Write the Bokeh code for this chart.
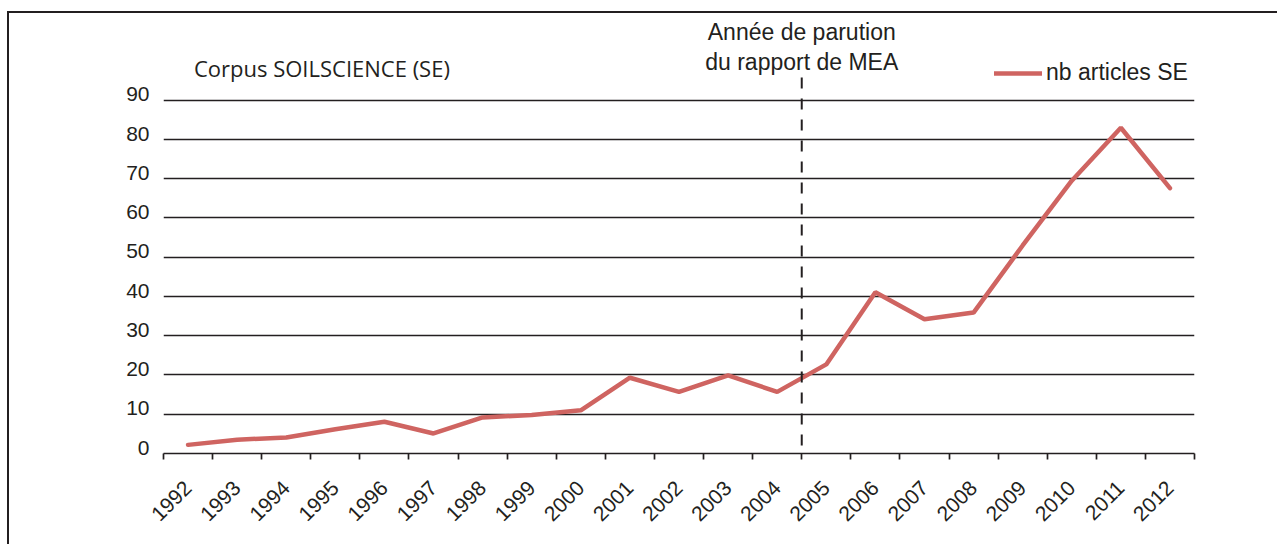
from math import pi

from bokeh.plotting import figure
from bokeh.models import Range1d, FixedTicker, Label, Legend, LegendItem, LinearAxis
from bokeh.embed import file_html
from bokeh.resources import INLINE

# ---------------- data ----------------
years = [1992, 1993, 1994, 1995, 1996, 1997, 1998, 1999, 2000, 2001, 2002,
         2003, 2004, 2005, 2006, 2007, 2008, 2009, 2010, 2011, 2012]
year_labels = ["1992", "1993", "1994", "1995", "1996", "1997", "1998", "1999",
               "2000", "2001", "2002", "2003", "2004", "2005", "2006", "2007",
               "2008", "2009", "2010", "2011", "2012"]
nb_articles_se = [2.2, 3.5, 4.1, 6.2, 8.1, 5.1, 9.2, 9.8, 11.0, 19.3, 15.7,
                  19.9, 15.7, 22.7, 41.1, 34.2, 35.9, 53.0, 69.5, 83.0, 67.6]
y_ticks = [0, 10, 20, 30, 40, 50, 60, 70, 80, 90]
series_label = "nb articles SE"
chart_title = "Corpus SOILSCIENCE (SE)"
annotation_lines = ["Année de parution", "du rapport de MEA"]
mea_boundary = 2004.5  # between 2004 and 2005

# ---------------- styles ----------------
INK = "#231f20"
LINE_COLOR = "#cf6461"
SANS = "Liberation Sans"
Y_MAX = 112.1
LABEL_LIFT = 1.5  # tick labels sit just above their grid lines

p = figure(width=1270, height=533,
           x_range=Range1d(1991.5, 2012.5), y_range=Range1d(0, Y_MAX),
           output_backend="svg", toolbar_location=None,
           min_border_left=154, min_border_right=85,
           min_border_top=0, min_border_bottom=93)
p.outline_line_color = None
p.background_fill_color = "white"
p.border_fill_color = "white"
p.styles = {"border-left": "2px solid " + INK, "border-top": "2px solid " + INK,
            "margin-top": "11px", "margin-left": "7px"}

# y grid on the main range; y labels on a slightly shifted copy of it
p.yaxis.visible = False
p.ygrid.ticker = FixedTicker(ticks=y_ticks)
p.ygrid.grid_line_color = INK
p.ygrid.grid_line_width = 1.4
p.xgrid.visible = False

p.extra_y_ranges = {"labels": Range1d(-LABEL_LIFT, Y_MAX - LABEL_LIFT)}
yax = LinearAxis(y_range_name="labels", ticker=FixedTicker(ticks=y_ticks))
yax.axis_line_color = None
yax.major_tick_line_color = None
yax.minor_tick_line_color = None
yax.major_tick_out = 0
yax.major_tick_in = 0
yax.major_label_standoff = 14
yax.major_label_text_font = SANS
yax.major_label_text_font_size = "21px"
yax.major_label_text_color = INK
p.add_layout(yax, "left")

# x axis: labels centred on years, ticks on boundaries
boundaries = [y - 0.5 for y in years] + [years[-1] + 0.5]
p.xaxis.ticker = FixedTicker(ticks=years, minor_ticks=boundaries)
p.xaxis.major_label_overrides = {y: s for y, s in zip(years, year_labels)}
p.xaxis.major_label_orientation = pi / 4
p.xaxis.major_tick_line_color = None
p.xaxis.major_tick_out = 0
p.xaxis.major_tick_in = 0
p.xaxis.minor_tick_in = 0
p.xaxis.minor_tick_out = 6
p.xaxis.minor_tick_line_color = INK
p.xaxis.minor_tick_line_width = 1.7
p.xaxis.axis_line_color = INK
p.xaxis.axis_line_width = 1.7
p.xaxis.major_label_standoff = 25
p.xaxis.major_label_text_font = SANS
p.xaxis.major_label_text_font_size = "21px"
p.xaxis.major_label_text_color = INK

# series
r = p.line(years, nb_articles_se, line_color=LINE_COLOR, line_width=4.5,
           line_cap="round")

# vertical dashed marker (drawn from the top down)
p.segment(x0=[mea_boundary], y0=[95.8], x1=[mea_boundary], y1=[0],
          line_color=INK, line_width=2, line_dash="11 10")

# texts
p.add_layout(Label(x=1992.12, y=98.2, text=chart_title, text_font="Open Sans",
                   text_font_size="22px", text_color=INK,
                   text_baseline="alphabetic"))
p.add_layout(Label(x=mea_boundary, y=107.4, text=annotation_lines[0],
                   text_font=SANS, text_font_size="23px", text_color=INK,
                   text_align="center", text_baseline="alphabetic"))
p.add_layout(Label(x=mea_boundary, y=99.7, text=annotation_lines[1],
                   text_font=SANS, text_font_size="23px", text_color=INK,
                   text_align="center", text_baseline="alphabetic"))

legend = Legend(items=[LegendItem(label=series_label, renderers=[r])],
                location=(831, 367), border_line_color=None,
                background_fill_alpha=0, padding=0, margin=0, spacing=0,
                glyph_width=48, glyph_height=20, label_standoff=4,
                label_height=20, label_text_font=SANS,
                label_text_font_size="23px", label_text_color=INK)
p.add_layout(legend)

open("out.html", "w").write(file_html(p, INLINE))
